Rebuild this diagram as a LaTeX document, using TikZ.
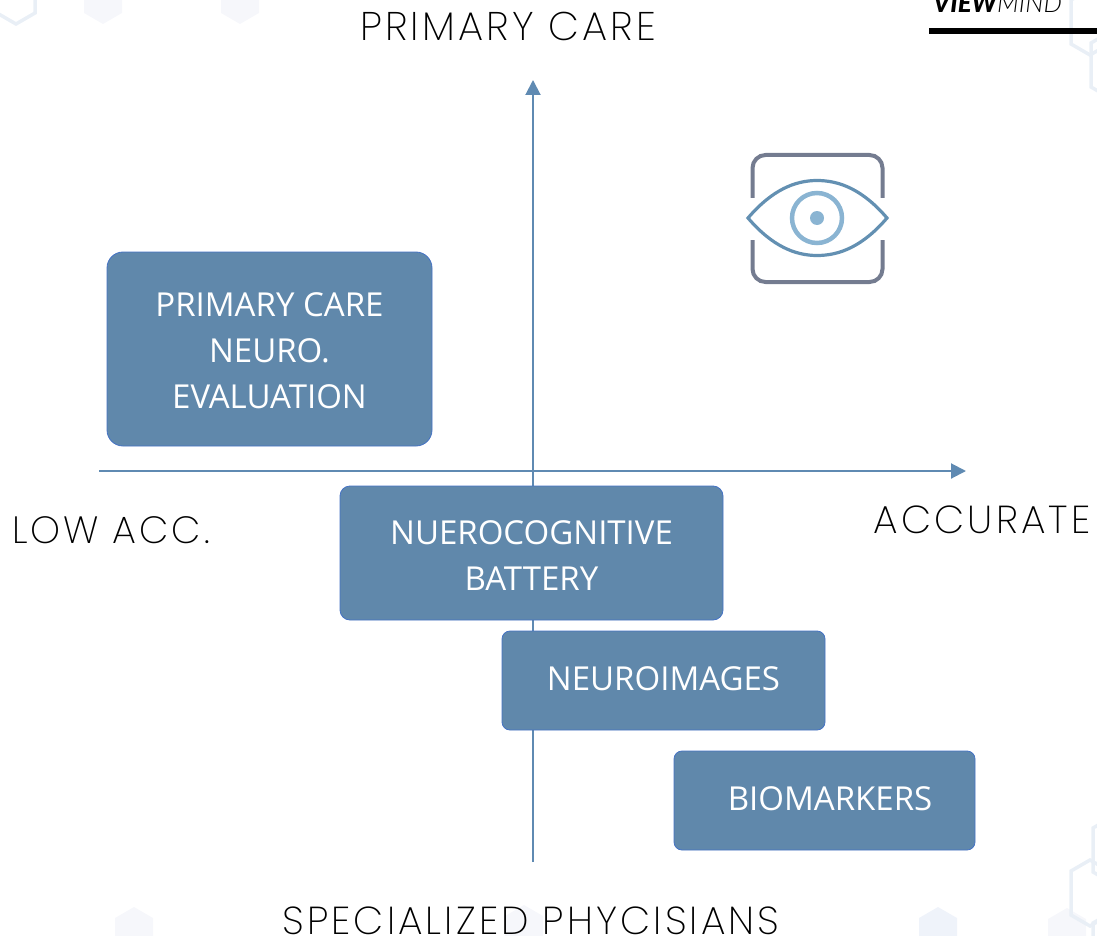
\documentclass[tikz,border=0pt]{standalone}
\usepackage{fontspec}
\setmainfont{Open Sans}
\newfontfamily\labelfont[LetterSpace=8]{Poppins ExtraLight}
\newfontfamily\logoheavy{Lato Black}
\newfontfamily\logolight{Lato Light}
\usetikzlibrary{arrows.meta}
\definecolor{boxfill}{HTML}{6088AB}
\definecolor{boxline}{HTML}{4472C4}
\definecolor{axisblue}{HTML}{5F8AB2}
\definecolor{framegrey}{HTML}{747C90}
\definecolor{eyeblue}{HTML}{6390B2}
\definecolor{irisblue}{HTML}{8AB4D2}
\definecolor{hexpale}{HTML}{F6F7FB}
\definecolor{hexblue}{HTML}{EFF3FA}
\definecolor{hexline}{HTML}{E9EFF6}
\tikzset{
  x=1pt,y=-1pt,
  stage/.style={draw=boxline,line width=0.8pt,fill=boxfill,rounded corners=#1,text=white,
    font=\fontsize{33}{46}\selectfont,align=center,inner sep=0pt,anchor=center},
  axisline/.style={draw=axisblue,line width=2pt,-{Triangle[length=15pt,width=15pt]}},
  axislabel/.style={font=\labelfont\fontsize{#1}{44}\selectfont,text=black,inner sep=0pt,anchor=center},
  pale/.style={fill=#1,draw=none},
  hexring/.style={draw=hexline,line width=3.5pt,fill=none},
  pics/hexa/.style={code={\path[#1] (-19,-22)--(0,-33)--(19,-22)--(19,22)--(0,33)--(-19,22)--cycle;}}
}
\begin{document}
\begin{tikzpicture}
\useasboundingbox (0,0) rectangle (1097,936);
\clip (0,0) rectangle (1097,936);
% faint background hexagons
\pic at (16,-9) {hexa={hexring}};
\pic at (103,-9) {hexa={pale=hexpale}};
\pic at (240,-9) {hexa={pale=hexpale}};
\pic at (1090,22) {hexa={hexring}};
\pic at (1110,65) {hexa={hexring}};
\pic at (134,940) {hexa={pale=hexpale}};
\pic at (524,938) {hexa={pale=hexpale}};
\pic at (938,940) {hexa={pale=hexblue}};
\pic at (1067,941) {hexa={pale=hexpale}};
\pic at (1090,893) {hexa={hexring}};
\pic at (1112,850) {hexa={hexring}};
\pic at (1112,945) {hexa={hexring}};
% axes
\coordinate (west) at (99,471);
\coordinate (east) at (966,471);
\coordinate (south) at (533,862);
\coordinate (north) at (533,80);
\draw[axisline] (west) -- (east);
\draw[axisline] (south) -- (north);
% boxes
\node[stage=16pt,minimum width=325pt,minimum height=194pt] (care) at (269.5,349) {\rule{0pt}{28pt}PRIMARY CARE\\NEURO.\\EVALUATION};
\node[stage=10pt,minimum width=383pt,minimum height=134pt] (battery) at (531.5,553) {\rule{0pt}{29pt}NUEROCOGNITIVE\\BATTERY};
\node[stage=8pt,minimum width=323pt,minimum height=99pt] (images) at (663.5,680.5) {\raisebox{3pt}{NEUROIMAGES}};
\node[stage=8pt,minimum width=301pt,minimum height=99pt] (markers) at (824.5,800.5) {\hspace*{11pt}\raisebox{3pt}{BIOMARKERS}};
% axis labels
\node[axislabel=40] (top) at (508,26) {PRIMARY CARE};
\node[axislabel=39] (bottom) at (531,920.5) {SPECIALIZED PHYCISIANS};
\node[axislabel=38] (left) at (111,530) {LOW ACC.};
\node[axislabel=39] (right) at (982,520) {ACCURATE};
% eye icon
\draw[framegrey,line width=4pt,rounded corners=13pt] (752.5,198) -- (752.5,155) -- (882.5,155) -- (882.5,198);
\draw[framegrey,line width=4pt,rounded corners=13pt] (752.5,240) -- (752.5,282) -- (882.5,282) -- (882.5,240);
\draw[eyeblue,line width=3.2pt,line join=miter] (748,218) .. controls (772,190) and (795,180.5) .. (817,180.5) .. controls (840,180.5) and (863,190) .. (887,218) .. controls (863,246) and (840,255.5) .. (817,255.5) .. controls (795,255.5) and (772,246) .. cycle;
\draw[irisblue,line width=4.5pt] (817,218) circle[radius=25];
\fill[irisblue] (817,218) circle[radius=7];
% logo
\node[inner sep=0pt,anchor=base west,text=black,font=\fontsize{26}{26}\selectfont] (logo) at (933,13) {{\logoheavy\itshape VIEW}{\logolight\itshape MIND}};
\fill[black] (929,28) rectangle (1097,34);
\end{tikzpicture}
\end{document}
